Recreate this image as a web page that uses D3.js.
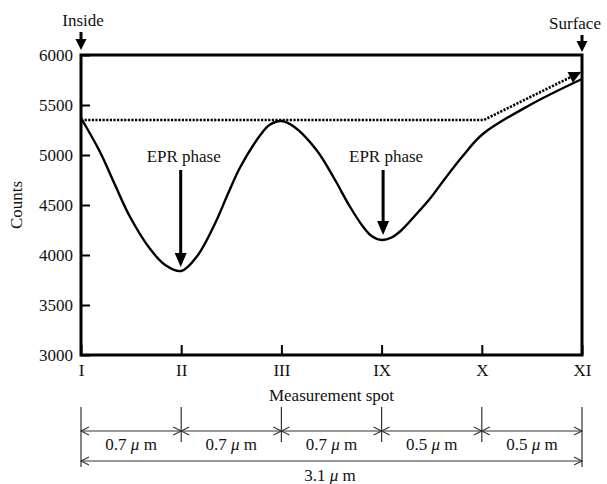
<!DOCTYPE html>
<html>
<head>
<meta charset="utf-8">
<script src="https://cdn.jsdelivr.net/npm/d3@7"></script>
<style>
  body { margin: 0; background: #fff; }
  svg text { font-family: "Liberation Serif", "Times New Roman", serif; fill: #111; }
</style>
</head>
<body>
<svg id="chart" width="607" height="484"></svg>
<script>
// measurement spots along the cross-section (equally spaced on the chart)
var spotLabels = ["I", "II", "III", "IX", "X", "XI"];
var spotIndex = [0, 1, 2, 3, 4, 5];
var countTicks = [3000, 3500, 4000, 4500, 5000, 5500, 6000];

var profilePos = [0, 0.19, 0.34, 0.49, 0.69, 0.84, 1.0, 1.16, 1.34, 1.47, 1.59, 1.79, 1.88, 2.0, 2.13, 2.35, 2.53, 2.68, 2.81, 2.9, 3.0, 3.1, 3.2, 3.33, 3.48, 3.63, 3.81, 4.01, 4.48, 5.0];
var profileCounts = [5370, 5030, 4700, 4380, 4060, 3900, 3840, 3990, 4320, 4620, 4880, 5200, 5300, 5340, 5280, 5050, 4760, 4490, 4290, 4190, 4150, 4175, 4250, 4390, 4560, 4760, 4990, 5210, 5500, 5760];

// dotted reference level and its extension towards the surface
var levelPos = [0, 4.02, 4.99];
var levelCounts = [5350, 5350, 5830];

// EPR phase arrows: spot position and counts at the arrow tip
var eprPos = [1.0, 3.02];
var eprTip = [3880, 4200];

// distances between spots (micrometres)
var gapLabels = ["0.7", "0.7", "0.7", "0.5", "0.5"];
var totalLabel = "3.1";

var svg = d3.select("#chart");
var plotLeft = 81, plotRight = 582, plotTop = 55, plotBottom = 355;

var x = d3.scaleLinear().domain([0, 5]).range([plotLeft, plotRight]);
var y = d3.scaleLinear().domain([3000, 6000]).range([plotBottom, plotTop]);

function arrowHead(g, tipX, tipY, angle, len, half, filled) {
    // angle = direction of travel, radians
    var bx = tipX - len * Math.cos(angle), by = tipY - len * Math.sin(angle);
    var px = -Math.sin(angle) * half, py = Math.cos(angle) * half;
    var pts = [[bx + px, by + py], [tipX, tipY], [bx - px, by - py]];
    if (filled) {
        g.append("path").attr("d", "M" + pts.join("L") + "Z").attr("fill", "#000");
    } else {
        g.append("path").attr("d", "M" + pts.join("L")).attr("fill", "none")
            .attr("stroke", "#333").attr("stroke-width", 1.1);
    }
}

function microText(g, tx, ty, num) {
    var t = g.append("text").attr("x", tx).attr("y", ty)
        .attr("text-anchor", "middle").attr("font-size", 17);
    t.append("tspan").text(num + " ");
    t.append("tspan").attr("font-style", "italic").text("\u03bc");
    t.append("tspan").text(" m");
}

//y axis, ticks inside the frame
svg.append("g")
    .attr("transform", "translate(" + plotLeft + ",0)")
    .call(d3.axisLeft(y).tickValues(countTicks).tickSize(-9).tickPadding(8).tickFormat(d3.format("d")))
    .call(function (g) {
        g.select(".domain").remove();
        g.selectAll("line").attr("stroke", "#000").attr("stroke-width", 2);
        g.selectAll("text").attr("font-size", 17).style("fill", "#111");
    });

//x axis with roman numeral spots
svg.append("g")
    .attr("transform", "translate(0," + plotBottom + ")")
    .call(d3.axisBottom(x).tickValues(spotIndex).tickSize(-10).tickPadding(9)
        .tickFormat(function (d, i) { return spotLabels[i]; }))
    .call(function (g) {
        g.select(".domain").remove();
        g.selectAll("line").attr("stroke", "#000").attr("stroke-width", 2);
        g.selectAll("text").attr("font-size", 17).style("fill", "#111");
    });

//frame
svg.append("rect")
    .attr("x", plotLeft).attr("y", plotTop)
    .attr("width", plotRight - plotLeft).attr("height", plotBottom - plotTop)
    .attr("fill", "none").attr("stroke", "#000").attr("stroke-width", 3);

//axis titles
svg.append("text")
    .attr("transform", "translate(22," + (plotTop + plotBottom) / 2 + ") rotate(-90)")
    .attr("text-anchor", "middle").attr("font-size", 17).text("Counts");
svg.append("text")
    .attr("x", (plotLeft + plotRight) / 2).attr("y", 401)
    .attr("text-anchor", "middle").attr("font-size", 17).text("Measurement spot");

//dotted level line
var levelData = levelPos.map(function (p, i) { return [p, levelCounts[i]]; });
var l1 = levelData[1], l2 = levelData[2];
var levelAngle = Math.atan2(y(l2[1]) - y(l1[1]), x(l2[0]) - x(l1[0]));
svg.append("path")
    .datum(levelData)
    .attr("d", d3.line().x(function (d) { return x(d[0]); }).y(function (d) { return y(d[1]); }))
    .attr("fill", "none").attr("stroke", "#000").attr("stroke-width", 2.6)
    .attr("stroke-dasharray", "2.2,1.4");
arrowHead(svg, x(l2[0]), y(l2[1]), levelAngle, 12, 6, true);

//measured profile
var profile = profilePos.map(function (p, i) { return [p, profileCounts[i]]; });
svg.append("path")
    .datum(profile)
    .attr("d", d3.line().curve(d3.curveCatmullRom.alpha(0.5))
        .x(function (d) { return x(d[0]); }).y(function (d) { return y(d[1]); }))
    .attr("fill", "none").attr("stroke", "#000").attr("stroke-width", 2.4)
    .attr("stroke-linejoin", "round");

//EPR phase markers
eprPos.forEach(function (p, i) {
    var ax = x(p) - 0.5;
    var tip = y(eprTip[i]);
    svg.append("text")
        .attr("x", ax + 3).attr("y", 162)
        .attr("text-anchor", "middle").attr("font-size", 17).text("EPR phase");
    svg.append("line")
        .attr("x1", ax).attr("x2", ax).attr("y1", 170).attr("y2", tip - 10)
        .attr("stroke", "#000").attr("stroke-width", 3);
    arrowHead(svg, ax, tip, Math.PI / 2, 14, 6, true);
});

//Inside / Surface labels
svg.append("text").attr("x", 83).attr("y", 26)
    .attr("text-anchor", "middle").attr("font-size", 17).text("Inside");
svg.append("line").attr("x1", x(0)).attr("x2", x(0)).attr("y1", 32).attr("y2", 42)
    .attr("stroke", "#000").attr("stroke-width", 3);
arrowHead(svg, x(0), 50, Math.PI / 2, 11, 5.5, true);

svg.append("text").attr("x", 575).attr("y", 29)
    .attr("text-anchor", "middle").attr("font-size", 17).text("Surface");
svg.append("line").attr("x1", x(5)).attr("x2", x(5)).attr("y1", 35).attr("y2", 44)
    .attr("stroke", "#000").attr("stroke-width", 3);
arrowHead(svg, x(5), 52, Math.PI / 2, 11, 5.5, true);

//dimension lines below the axis
var dim = svg.append("g");
var dimY = 431, totalY = 461;
spotIndex.forEach(function (d) {
    var long = (d === 0 || d === 5);
    dim.append("line")
        .attr("x1", x(d)).attr("x2", x(d))
        .attr("y1", 407).attr("y2", long ? 467 : 442)
        .attr("stroke", "#333").attr("stroke-width", 1.2);
});
gapLabels.forEach(function (lab, i) {
    var x0 = x(i), x1 = x(i + 1);
    dim.append("line").attr("x1", x0).attr("x2", x1).attr("y1", dimY).attr("y2", dimY)
        .attr("stroke", "#333").attr("stroke-width", 1.1);
    arrowHead(dim, x0, dimY, Math.PI, 8, 4, false);
    arrowHead(dim, x1, dimY, 0, 8, 4, false);
    microText(dim, (x0 + x1) / 2, 450, lab);
});
dim.append("line").attr("x1", x(0)).attr("x2", x(5)).attr("y1", totalY).attr("y2", totalY)
    .attr("stroke", "#333").attr("stroke-width", 1.1);
arrowHead(dim, x(0), totalY, Math.PI, 8, 4, false);
arrowHead(dim, x(5), totalY, 0, 8, 4, false);
microText(dim, 330, 481, totalLabel);
</script>
</body>
</html>
